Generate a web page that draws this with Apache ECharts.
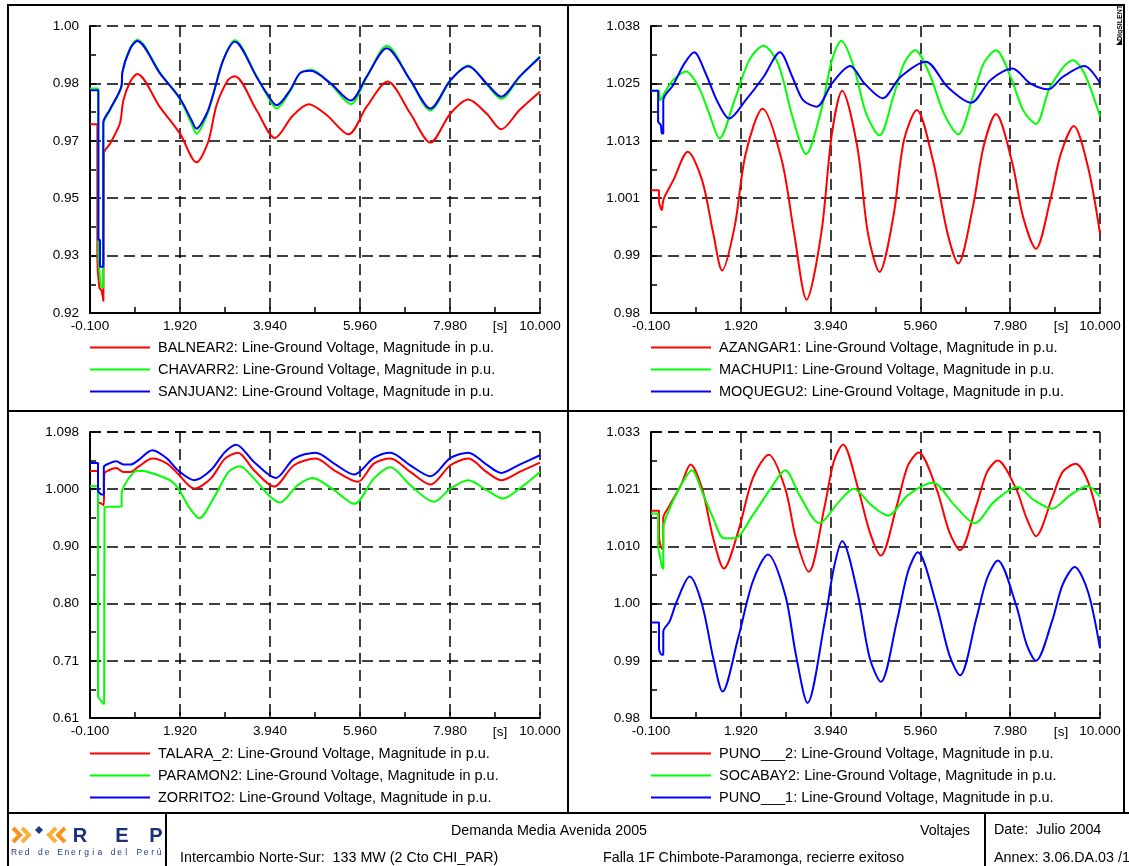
<!DOCTYPE html>
<html><head><meta charset="utf-8">
<script src="https://cdn.jsdelivr.net/npm/echarts@6/dist/echarts.min.js"></script>
<style>html,body{margin:0;padding:0;background:#fff}#c{width:1129px;height:866px}</style>
</head><body><div id="c"></div><script>
// ---------- tick labels ----------
const X_TICKS = ["-0.100", "1.920", "3.940", "5.960", "7.980", "10.000"];
const X_RANGE = [-0.1, 10.0];
const Y_TICKS_TL = ["0.92", "0.93", "0.95", "0.97", "0.98", "1.00"];
const Y_TICKS_TR = ["0.98", "0.99", "1.001", "1.013", "1.025", "1.038"];
const Y_TICKS_BL = ["0.61", "0.71", "0.80", "0.90", "1.000", "1.098"];
const Y_TICKS_BR = ["0.98", "0.99", "1.00", "1.010", "1.021", "1.033"];
const Y_RANGE_TL = [0.92, 1.00];
const Y_RANGE_TR = [0.98, 1.038];
const Y_RANGE_BL = [0.61, 1.098];
const Y_RANGE_BR = [0.98, 1.033];

// ---------- series values [time s, voltage p.u.] ----------
const BALNEAR2 = [[-0.1,0.9726],[0.065,0.9726],[0.065,0.9355],[0.11,0.9271],[0.16,0.9262],[0.20,0.9234],[0.21,0.9644],[0.35,0.9672],[0.57,0.9728],[0.65,0.9793],[0.80,0.9844],[0.96,0.9866],[1.47,0.9774],[1.92,0.9700],[2.29,0.9620],[2.55,0.9676],[2.74,0.9779],[3.0,0.9850],[3.15,0.9860],[3.64,0.9765],[4.05,0.9688],[4.45,0.9750],[4.81,0.9782],[5.21,0.9752],[5.70,0.9698],[6.11,0.9775],[6.58,0.9845],[7.09,0.9756],[7.54,0.9675],[7.99,0.9756],[8.39,0.9795],[8.80,0.9756],[9.13,0.9712],[9.54,0.9766],[10.0,0.9817]];
const CHAVARR2 = [[-0.1,0.9826],[0.087,0.9826],[0.087,0.9364],[0.124,0.9299],[0.16,0.9271],[0.199,0.9271],[0.199,0.9726],[0.35,0.9765],[0.61,0.9833],[0.625,0.9870],[0.80,0.9938],[0.96,0.9962],[1.47,0.9870],[1.92,0.9795],[2.18,0.9728],[2.29,0.9700],[2.52,0.9750],[2.67,0.9810],[2.89,0.9905],[3.15,0.9960],[3.64,0.9860],[3.87,0.9808],[4.09,0.9770],[4.39,0.9818],[4.61,0.9868],[4.87,0.9878],[5.30,0.9838],[5.75,0.9782],[6.11,0.9857],[6.56,0.9945],[7.09,0.9848],[7.54,0.9765],[7.99,0.9848],[8.39,0.9890],[8.80,0.9838],[9.13,0.9797],[9.54,0.9857],[10.0,0.9916]];
const SANJUAN2 = [[-0.1,0.9821],[0.087,0.9821],[0.087,0.9404],[0.124,0.9404],[0.124,0.9329],[0.199,0.9329],[0.199,0.9731],[0.35,0.9768],[0.61,0.9835],[0.625,0.9870],[0.80,0.9936],[0.96,0.9958],[1.47,0.9868],[1.92,0.9798],[2.18,0.9737],[2.29,0.9714],[2.52,0.9756],[2.67,0.9812],[2.89,0.9905],[3.15,0.9956],[3.64,0.9858],[3.87,0.9812],[4.09,0.9779],[4.39,0.9821],[4.61,0.9868],[4.85,0.9875],[5.30,0.9840],[5.75,0.9792],[6.11,0.9859],[6.56,0.9938],[7.09,0.9849],[7.54,0.9770],[7.99,0.9849],[8.39,0.9888],[8.80,0.9840],[9.13,0.9803],[9.54,0.9859],[10.0,0.9913]];

const AZANGAR1 = [[-0.1,1.0048],[0.078,1.0048],[0.078,1.0028],[0.143,1.0008],[0.176,1.0028],[0.24,1.0041],[0.40,1.0068],[0.727,1.0126],[1.05,1.0068],[1.30,0.9961],[1.50,0.9886],[1.78,0.9974],[2.03,1.0122],[2.41,1.0213],[2.84,1.0109],[3.12,0.9961],[3.40,0.9827],[3.73,0.9961],[3.97,1.0163],[4.20,1.0249],[4.54,1.0136],[4.78,0.9961],[5.04,0.9883],[5.35,0.9994],[5.59,1.0149],[5.88,1.0210],[6.24,1.0109],[6.57,0.9961],[6.81,0.9900],[7.14,1.0014],[7.38,1.0136],[7.66,1.0202],[8.03,1.0102],[8.27,0.9994],[8.56,0.9930],[8.88,1.0028],[9.12,1.0122],[9.41,1.0178],[9.73,1.0095],[10.0,0.9961]];
const MACHUPI1 = [[-0.1,1.0249],[0.08,1.0249],[0.10,1.0230],[0.24,1.0250],[0.40,1.0271],[0.69,1.0288],[0.97,1.0257],[1.21,1.0203],[1.44,1.0153],[1.78,1.0230],[2.11,1.0311],[2.43,1.0340],[2.76,1.0304],[3.08,1.0197],[3.39,1.0121],[3.73,1.0210],[3.97,1.0311],[4.18,1.0350],[4.46,1.0298],[4.74,1.0203],[5.04,1.0159],[5.35,1.0237],[5.59,1.0304],[5.84,1.0331],[6.16,1.0284],[6.49,1.0203],[6.81,1.0161],[7.14,1.0237],[7.38,1.0304],[7.66,1.0331],[7.99,1.0277],[8.27,1.0210],[8.56,1.0182],[8.88,1.0257],[9.39,1.0311],[9.65,1.0284],[10.0,1.0197]];
const MOQUEGU2 = [[-0.1,1.0249],[0.06,1.0249],[0.06,1.0187],[0.12,1.0180],[0.143,1.0163],[0.176,1.0163],[0.176,1.0230],[0.40,1.0261],[0.65,1.0304],[0.87,1.0327],[1.13,1.0284],[1.38,1.0230],[1.66,1.0193],[2.03,1.0230],[2.43,1.0277],[2.80,1.0327],[3.08,1.0277],[3.32,1.0230],[3.63,1.0217],[3.97,1.0264],[4.38,1.0299],[4.70,1.0264],[5.11,1.0234],[5.51,1.0277],[6.08,1.0308],[6.57,1.0257],[7.10,1.0225],[7.54,1.0271],[8.03,1.0294],[8.43,1.0264],[8.84,1.0252],[9.16,1.0277],[9.65,1.0299],[10.0,1.0265]];

const TALARA_2 = [[-0.1,1.0316],[0.08,1.0316],[0.08,0.9788],[0.15,0.9760],[0.21,0.9731],[0.22,1.0270],[0.32,1.0327],[0.49,1.0367],[0.65,1.0299],[0.81,1.0299],[0.98,1.0384],[1.30,1.0526],[1.63,1.0441],[1.87,1.0270],[2.24,1.0015],[2.61,1.0185],[2.93,1.0526],[3.22,1.0628],[3.58,1.0327],[4.03,1.0049],[4.48,1.0412],[4.97,1.0526],[5.38,1.0327],[5.91,1.0129],[6.27,1.0441],[6.64,1.0526],[7.09,1.0299],[7.54,1.0083],[7.99,1.0412],[8.39,1.0526],[8.80,1.0299],[9.13,1.0157],[9.54,1.0299],[10.0,1.0458]];
const PARAMON2 = [[-0.1,1.0055],[0.08,1.0055],[0.08,0.6469],[0.16,0.6384],[0.218,0.6338],[0.226,0.6338],[0.226,0.9703],[0.61,0.9705],[0.61,0.9934],[0.72,1.0132],[0.95,1.0320],[1.14,1.0310],[1.47,1.0229],[1.71,1.0150],[1.88,1.0019],[2.12,0.9700],[2.35,0.9510],[2.69,0.9873],[3.01,1.0299],[3.26,1.0395],[3.58,1.0185],[3.91,0.9902],[4.16,0.9777],[4.56,1.0072],[4.89,1.0197],[5.38,0.9987],[5.83,0.9754],[6.27,1.0185],[6.64,1.0378],[7.09,1.0072],[7.62,0.9788],[7.99,1.0015],[8.39,1.0157],[8.80,0.9987],[9.17,0.9845],[9.54,1.0015],[10.0,1.0299]];
const ZORRITO2 = [[-0.1,1.0452],[0.08,1.0452],[0.08,0.9987],[0.17,0.9913],[0.21,0.9913],[0.21,1.0384],[0.32,1.0441],[0.49,1.0480],[0.65,1.0424],[0.81,1.0424],[0.98,1.0497],[1.30,1.0668],[1.63,1.0526],[1.87,1.0327],[2.24,1.0157],[2.61,1.0327],[2.93,1.0639],[3.18,1.0764],[3.58,1.0469],[4.07,1.0197],[4.48,1.0526],[4.97,1.0628],[5.38,1.0441],[5.83,1.0253],[6.27,1.0537],[6.64,1.0628],[7.09,1.0412],[7.54,1.0225],[7.99,1.0537],[8.39,1.0628],[8.80,1.0424],[9.13,1.0282],[9.54,1.0424],[10.0,1.0583]];

const PUNO___2 = [[-0.1,1.0184],[0.08,1.0184],[0.08,1.0139],[0.143,1.0114],[0.176,1.0114],[0.176,1.0170],[0.32,1.0194],[0.57,1.0231],[0.79,1.0270],[1.05,1.0225],[1.30,1.0133],[1.54,1.0077],[1.86,1.0145],[2.19,1.0244],[2.55,1.0288],[2.92,1.0225],[3.16,1.0133],[3.45,1.0071],[3.81,1.0194],[4.01,1.0275],[4.22,1.0307],[4.54,1.0231],[4.82,1.0145],[5.07,1.0101],[5.43,1.0194],[5.68,1.0268],[5.92,1.0292],[6.32,1.0225],[6.61,1.0145],[6.85,1.0111],[7.22,1.0194],[7.46,1.0256],[7.70,1.0277],[8.11,1.0225],[8.35,1.0170],[8.56,1.0137],[8.92,1.0207],[9.16,1.0256],[9.45,1.0271],[9.73,1.0238],[10.0,1.0157]];
const SOCABAY2 = [[-0.1,1.0179],[0.06,1.0179],[0.06,1.0120],[0.11,1.0096],[0.16,1.0077],[0.176,1.0077],[0.176,1.0151],[0.32,1.0188],[0.57,1.0231],[0.82,1.0259],[1.05,1.0219],[1.30,1.0170],[1.54,1.0133],[1.78,1.0133],[2.19,1.0176],[2.59,1.0225],[2.92,1.0259],[3.24,1.0213],[3.69,1.0161],[4.13,1.0201],[4.46,1.0225],[4.86,1.0194],[5.23,1.0175],[5.68,1.0213],[6.24,1.0236],[6.73,1.0194],[7.18,1.0161],[7.62,1.0201],[8.15,1.0228],[8.51,1.0204],[8.92,1.0188],[9.33,1.0213],[9.72,1.0230],[10.0,1.0210]];
const PUNO___1 = [[-0.1,0.9977],[0.08,0.9977],[0.08,0.9929],[0.143,0.9917],[0.176,0.9917],[0.176,0.9960],[0.32,0.9979],[0.48,1.0016],[0.77,1.0062],[1.05,1.0010],[1.30,0.9911],[1.51,0.9849],[1.86,0.9948],[2.19,1.0053],[2.53,1.0103],[2.92,1.0028],[3.16,0.9917],[3.42,0.9828],[3.81,0.9979],[4.01,1.0077],[4.20,1.0128],[4.54,1.0034],[4.82,0.9911],[5.07,0.9867],[5.43,0.9979],[5.68,1.0071],[5.90,1.0107],[6.32,1.0010],[6.61,0.9917],[6.85,0.9879],[7.22,0.9985],[7.46,1.0059],[7.70,1.0092],[8.11,1.0010],[8.35,0.9936],[8.56,0.9906],[8.92,0.9979],[9.16,1.0047],[9.43,1.0080],[9.73,1.0034],[10.0,0.9929]];

const LEGEND_SUFFIX = ": Line-Ground Voltage, Magnitude in p.u.";
const COLORS = ["#ff0000", "#00ff00", "#0000ff"];

// ---------- layout ----------
const FONT = '"Liberation Sans", Arial, Helvetica, sans-serif';
const PANELS = [
  {grid:{left:90, top:26, width:450, height:287}, yr:Y_RANGE_TL, ticks:Y_TICKS_TL, names:["BALNEAR2","CHAVARR2","SANJUAN2"], data:[BALNEAR2,CHAVARR2,SANJUAN2], legendTop:340},
  {grid:{left:651, top:26, width:449, height:287}, yr:Y_RANGE_TR, ticks:Y_TICKS_TR, names:["AZANGAR1","MACHUPI1","MOQUEGU2"], data:[AZANGAR1,MACHUPI1,MOQUEGU2], legendTop:340},
  {grid:{left:90, top:432, width:450, height:286}, yr:Y_RANGE_BL, ticks:Y_TICKS_BL, names:["TALARA_2","PARAMON2","ZORRITO2"], data:[TALARA_2,PARAMON2,ZORRITO2], legendTop:746},
  {grid:{left:651, top:432, width:449, height:286}, yr:Y_RANGE_BR, ticks:Y_TICKS_BR, names:["PUNO___2","SOCABAY2","PUNO___1"], data:[PUNO___2,SOCABAY2,PUNO___1], legendTop:746}
];

const grids = [], xAxes = [], yAxes = [], series = [], legends = [];
const tickStyle = {color:'#000', width:1.5};
PANELS.forEach((p, i) => {
  grids.push(Object.assign({containLabel:false, outerBoundsMode:'none'}, p.grid));
  const xStep = (X_RANGE[1] - X_RANGE[0]) / 5;
  xAxes.push({
    gridIndex:i, type:'value', min:X_RANGE[0], max:X_RANGE[1], interval:xStep,
    axisLine:{show:true, onZero:false, lineStyle:{color:'#000', width:2}},
    axisTick:{show:true, inside:true, length:6, lineStyle:tickStyle},
    minorTick:{show:true, splitNumber:2, length:6, lineStyle:tickStyle},
    splitLine:{show:true, lineStyle:{color:'#000', width:1.5, type:[11,6]}},
    minorSplitLine:{show:false},
    axisLabel:{show:true, margin:6, color:'#000', fontSize:13.5, fontFamily:FONT, showMinLabel:true, showMaxLabel:true, hideOverlap:false,
      formatter:(v) => X_TICKS[Math.round((v - X_RANGE[0]) / xStep)] || ''}
  });
  const yStep = (p.yr[1] - p.yr[0]) / 5;
  yAxes.push({
    gridIndex:i, type:'value', min:p.yr[0], max:p.yr[1], interval:yStep,
    axisLine:{show:true, onZero:false, lineStyle:{color:'#000', width:2}},
    axisTick:{show:true, inside:true, length:6, lineStyle:tickStyle},
    minorTick:{show:true, splitNumber:2, length:6, lineStyle:tickStyle},
    splitLine:{show:true, lineStyle:{color:'#000', width:1.5, type:[11,6]}},
    minorSplitLine:{show:false},
    axisLabel:{show:true, margin:11, color:'#000', fontSize:13.5, fontFamily:FONT, showMinLabel:true, showMaxLabel:true, hideOverlap:false,
      formatter:(v) => p.ticks[Math.round((v - p.yr[0]) / yStep)] || ''}
  });
  p.names.forEach((n, k) => {
    series.push({
      name:n, type:'line', xAxisIndex:i, yAxisIndex:i, data:p.data[k],
      showSymbol:false, symbol:'none', smooth:0.3, animation:false, silent:true,
      lineStyle:{color:COLORS[k], width:2}, itemStyle:{color:COLORS[k]}, z:2+k
    });
  });
  legends.push({
    show:true, orient:'vertical', left:p.grid.left, top:p.legendTop, itemWidth:60, itemHeight:2, itemGap:7,
    icon:'rect', selectedMode:false, data:p.names, padding:0,
    textStyle:{fontSize:14.5, color:'#000', fontFamily:FONT, padding:[0,0,0,3]},
    formatter:(n) => n + LEGEND_SUFFIX
  });
});

// ---------- frame, footer, marks ----------
const G = [];
const L = (x1,y1,x2,y2,w) => G.push({type:'line', silent:true, shape:{x1,y1,x2,y2}, style:{stroke:'#000', lineWidth:w||2}});
const FOOT = '14.3px ' + FONT;
const T = (x,y,text,opt) => G.push({type:'text', silent:true, x, y, rotation:(opt&&opt.rot)||0,
  style:Object.assign({text, fill:'#000', font:'13.5px ' + FONT, align:'left', verticalAlign:'middle', textAlign:'left', textVerticalAlign:'middle'}, (opt&&opt.style)||{})});
L(7,5,1125,5); L(8,4,8,866); L(1124,4,1124,813); L(7,411,1125,411); L(568,5,568,813);
L(7,813,1129,813); L(166,813,166,866); L(985,813,985,866);
// [s] unit labels
T(500,326,'[s]',{style:{align:'center',textAlign:'center'}});
T(1061,326,'[s]',{style:{align:'center',textAlign:'center'}});
T(500,732,'[s]',{style:{align:'center',textAlign:'center'}});
T(1061,732,'[s]',{style:{align:'center',textAlign:'center'}});
// footer texts
T(549,831,'Demanda Media Avenida 2005',{style:{align:'center',textAlign:'center',font:FOOT}});
T(970,831,'Voltajes',{style:{align:'right',textAlign:'right',font:FOOT}});
T(180,858,'Intercambio Norte-Sur:  133 MW (2 Cto CHI_PAR)',{style:{font:FOOT}});
T(603,858,'Falla 1F Chimbote-Paramonga, recierre exitoso',{style:{font:FOOT}});
T(994,830,'Date:  Julio 2004',{style:{font:FOOT}});
T(994,858,'Annex: 3.06.DA.03 /1',{style:{font:FOOT}});
// DIgSILENT mark
T(1120,23,'DIgSILENT',{rot:Math.PI/2, style:{align:'center',textAlign:'center', font:'bold 7px ' + FONT}});
G.push({type:'polygon', silent:true, shape:{points:[[1116,45],[1122,39],[1122,45]]}, style:{fill:'#000'}});
// REP logo
const chev = (pts, c) => G.push({type:'polyline', silent:true, shape:{points:pts}, style:{stroke:c, lineWidth:4, fill:null}});
chev([[13,828],[20,835],[13,842]], '#f7941d');
chev([[22,828],[29,835],[22,842]], '#fbb03b');
chev([[56,828],[49,835],[56,842]], '#fbb03b');
chev([[65,828],[58,835],[65,842]], '#f7941d');
G.push({type:'polygon', silent:true, shape:{points:[[39,826],[43,830],[39,834],[35,830]]}, style:{fill:'#1b3a8c'}});
['R','E','P'].forEach((ch, k) => T([80,122,156][k], 836, ch, {style:{align:'center', textAlign:'center', font:'bold 20px ' + FONT, fill:'#1b2f7a'}}));
const sub = 'Red de Energia del Perú';
for (let k = 0; k < sub.length; k++) {
  if (sub[k] !== ' ') T(14 + k * 6.6, 853, sub[k], {style:{align:'center', textAlign:'center', font:'8.5px ' + FONT, fill:'#1b3a8c'}});
}

const chart = echarts.init(document.getElementById('c'), null, {renderer:'canvas'});
chart.setOption({
  backgroundColor:'#ffffff', animation:false,
  textStyle:{fontFamily:FONT},
  grid:grids, xAxis:xAxes, yAxis:yAxes, series:series, legend:legends,
  tooltip:{show:false}, graphic:G
});
</script></body></html>
